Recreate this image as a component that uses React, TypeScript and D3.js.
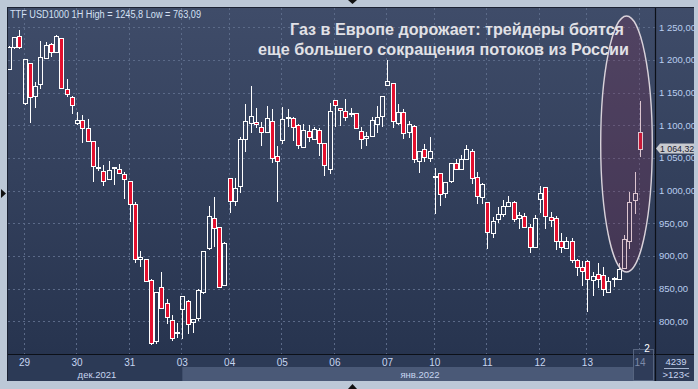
import React from 'react';
import * as d3 from 'd3';

// ---- data ----
const dayLabels = ['29', '30', '31', '03', '04', '05', '06', '07', '10', '11', '12', '13', '14'];
const dayStartIdx = [3, 13, 23, 33, 42, 52, 62, 72, 81, 91, 101, 110, 120];
const monthLabels = ['дек.2021', 'янв.2022'];
const priceTicks = [800, 850, 900, 950, 1000, 1050, 1100, 1150, 1200, 1250];

const opens = [
  1186, 1219.4, 1236.7, 1133.6, 1194.9, 1145.4, 1162.7, 1202.5, 1224.5, 1212.7,
  1233.1, 1155.1, 1143.9, 1103, 1108.1, 1095.4, 1075.5, 1034.7, 1030.6, 1017.3,
  1034.7, 1032.6, 1025, 1014.3, 979.6, 895.9, 894.9, 862.7, 770.4, 852,
  827.5, 802, 782.6, 818.3, 831.6, 799.5, 804.6, 845.4, 911.7, 958.1,
  943.9, 855.6, 1018.8, 984.2, 1007.6, 1078.5, 1103, 1105.6, 1097.9, 1090.3,
  1106.6, 1053, 1077.5, 1111.7, 1110.7, 1100, 1066.3, 1091.3, 1079, 1092.8,
  1072.4, 1032.6, 1138.8, 1126, 1121.9, 1117.3, 1118.4, 1091.8, 1080.1, 1084.2,
  1101.5, 1114.8, 1161.2, 1164.3, 1103, 1119.9, 1089.3, 1098.9, 1045.9, 1063.2,
  1049.5, 1021.9, 1026.5, 995.9, 1014.8, 1041.8, 1032.6, 1047.9, 1061.2, 1020.4,
  990.8, 982.1, 935.7, 956.6, 963.8, 977, 982.1, 957.6, 961.7, 944.9,
  914.3, 986.7, 1005.1, 960.2, 957.6, 922.9, 912.7, 923.4, 893.9, 882.6,
  892.8, 863.2, 871.9, 870.9, 844.4, 864.3, 864.3, 881.1, 923.4, 985.7,
  1089.3,
];
const highs = [
  1222, 1235.7, 1245.8, 1201, 1195, 1166.8, 1229, 1228, 1226.5, 1238.2,
  1234, 1170.4, 1144.9, 1119.9, 1115.8, 1109.2, 1076, 1067.3, 1038.8, 1045.4,
  1036.7, 1040.8, 1028, 1014.5, 983.1, 907.6, 895.5, 864.3, 845, 875,
  833.6, 809.7, 797.9, 839, 832, 803.5, 849, 908, 976.5, 990.8,
  944.5, 920.9, 1019.2, 1018.8, 1081.6, 1132.6, 1160.2, 1126, 1105.6, 1129.6,
  1125, 1068.3, 1127.5, 1125, 1112.2, 1101.5, 1101.5, 1100.5, 1098, 1095.4,
  1072.8, 1133.6, 1139.2, 1126.4, 1140.3, 1126, 1118.8, 1096.9, 1089.3, 1113.2,
  1129.6, 1144.8, 1200, 1164.7, 1132.1, 1124.5, 1106.6, 1100.5, 1061, 1071.4,
  1081.6, 1034.2, 1027, 1013, 1042.8, 1047.9, 1054.6, 1069.9, 1063.2, 1028,
  1011.2, 982.5, 960.2, 975.5, 985.7, 991.8, 984.2, 966.8, 965.3, 948.4,
  962.7, 1007.6, 1006.1, 967.8, 961.2, 934.7, 929.6, 927, 895.4, 892.8,
  893.2, 876, 888.8, 883.7, 867.3, 867.3, 889.8, 932.1, 998.5, 1028,
  1137.2,
];
const lows = [
  1184, 1216.8, 1216.8, 1131.6, 1104, 1126, 1155.6, 1201.5, 1205, 1211.7,
  1156, 1142.8, 1117.3, 1100.5, 1072.4, 1075, 1013.8, 1030.6, 1007.6, 1017,
  1008.6, 1026, 987.2, 952.5, 889.8, 883.7, 860.7, 763.09, 765, 819.5,
  795.4, 770.4, 774, 772.4, 780.1, 782.6, 800.5, 841.8, 909.2, 914.3,
  851.5, 854.6, 965.3, 977, 995.9, 1059.7, 1088.8, 1096.4, 1068.8, 1087.7,
  1042.8, 983.1, 1070.9, 1097.9, 1076.5, 1063.2, 1066, 1074, 1077.5, 1053.5,
  1023, 1025, 1096.9, 1099.5, 1107.1, 1113.2, 1094.5, 1064.2, 1068.3, 1081.6,
  1087.7, 1096.9, 1160.2, 1095.4, 1100.5, 1078.5, 1080.1, 1041.8, 1027.5, 1044.4,
  1044.4, 963.8, 977, 989.3, 1011.2, 1032, 1032, 1046.9, 1009.7, 979.1,
  979.1, 910.7, 928, 951, 960.2, 974.5, 952.5, 941.3, 942.3, 904.1,
  912.7, 966.3, 940.8, 944.9, 909.2, 904.1, 912, 888.8, 869.9, 854.6,
  813.8, 839.3, 850.5, 838.8, 844, 853, 864, 880, 910.2, 963.8,
  1052,
];
const closes = [
  1220, 1234.7, 1219.4, 1201, 1142.8, 1160.2, 1204, 1222.9, 1211.7, 1236.7,
  1156.6, 1147.4, 1130.6, 1108.1, 1095.4, 1076.5, 1037.7, 1036.2, 1014.8, 1031.1,
  1035.7, 1026.5, 1018.3, 979.1, 894.9, 897.9, 862.2, 766.3, 844.9, 819.9,
  807.1, 774, 783.7, 838.8, 795.9, 803, 848, 907.6, 961.2, 942.3,
  852, 919.4, 984.7, 1003.6, 1079, 1106.6, 1114.8, 1101.5, 1089.3, 1110.7,
  1049.5, 1045.4, 1109.2, 1112.7, 1096.9, 1069.4, 1092.8, 1081.6, 1093.9, 1072.4,
  1038.8, 1121.9, 1131.1, 1123.4, 1113.2, 1119.4, 1095.4, 1079, 1084.2, 1108.1,
  1112.2, 1144.4, 1167.3, 1106.6, 1119.9, 1087.7, 1101.5, 1047.9, 1060.7, 1051,
  1060.7, 1022.9, 994.4, 1012.7, 1041.8, 1032.6, 1047.9, 1063.2, 1018.8, 992.3,
  1009.7, 936.2, 953.6, 963.8, 977, 982.1, 956.1, 962.7, 943.9, 913.2,
  957.6, 995.9, 961.2, 955.1, 922.9, 914.3, 922.9, 893.9, 882.6, 877.5,
  864.3, 869.4, 864.3, 849.5, 862.2, 866.3, 879.6, 926, 983.1, 995.9,
  1064.32,
];

const headerText = 'TTF USD1000 1H High = 1245,8 Low = 763,09';
const titleLines = ['Газ в Европе дорожает: трейдеры боятся', 'еще большего сокращения потоков из России'];
const lastPriceLabel = '1 064,32';
const cornerTop = '4239';
const cornerBottom = '>123<';
const barCountMark = '2';

// ---- layout ----
const W = 698;
const H = 389;
const PL = 8, PR = 655, PT = 8, PB = 354;
const AXB = 381;

const fmtLocale = d3.formatLocale({ decimal: ',', thousands: ' ', grouping: [3], currency: ['', ''] });
const fmtPrice = fmtLocale.format(',.2f');

export default function App() {
  const n = opens.length;
  const x = d3.scaleLinear().domain([0, n - 1]).range([8.74, 640]);
  const y = d3.scaleLinear().domain([800, 1250]).range([321.3, 27.3]);

  const gridColor = '#5b6a88';
  const candles = opens.map((o, i) => {
    const c = closes[i];
    const hi = highs[i];
    const lo = lows[i];
    const cx = Math.round(x(i));
    const up = c >= o;
    const yTop = Math.round(y(Math.max(o, c)));
    let yBot = Math.round(y(Math.min(o, c)));
    if (yBot - yTop < 1) yBot = yTop + 1;
    const yH = Math.round(y(hi));
    const yL = Math.round(y(lo));
    return (
      <g key={i}>
        {yH < yTop && <line x1={cx + 0.5} x2={cx + 0.5} y1={yH} y2={yTop} stroke="#ffffff" strokeWidth={1} />}
        {yL > yBot && <line x1={cx + 0.5} x2={cx + 0.5} y1={yBot} y2={yL} stroke="#ffffff" strokeWidth={1} />}
        <rect
          x={cx - 1.5}
          y={yTop + 0.5}
          width={4}
          height={yBot - yTop}
          fill={up ? 'none' : '#e3102e'}
          stroke="#ffffff"
          strokeWidth={1}
        />
      </g>
    );
  });

  const monthSplit = x(dayStartIdx[3]);
  const yLast = y(closes[n - 1]);

  return (
    <svg
      width={W}
      height={H}
      viewBox={`0 0 ${W} ${H}`}
      style={{ position: 'fixed', left: 0, top: 0, display: 'block' }}
      fontFamily="'Liberation Sans', Arial, sans-serif"
    >
      <defs>
        <linearGradient id="bgGrad" x1="0" y1="0" x2="0" y2="1">
          <stop offset="0" stopColor="#3f4c69" />
          <stop offset="1" stopColor="#27344f" />
        </linearGradient>
        <clipPath id="plotClip">
          <rect x={PL} y={PT} width={PR - PL} height={PB - PT} />
        </clipPath>
      </defs>

      {/* outer frame */}
      <rect x={0} y={0} width={W} height={H} fill="#bcc8d7" />
      <rect x={PL - 1} y={PT - 1} width={694 - PL + 1} height={AXB - PT + 1} fill="#1b2233" />
      {/* plot + price axis background */}
      <rect x={PL} y={PT} width={694 - PL} height={PB - PT} fill="url(#bgGrad)" />
      {/* time axis strip */}
      <rect x={PL} y={PB + 1} width={PR - PL} height={AXB - PB - 1} fill="#2c3a56" />
      <rect x={monthSplit} y={367} width={633 - monthSplit} height={AXB - 367} fill="#4a5977" />
      <rect x={PR + 1} y={PB + 1} width={694 - PR - 1} height={AXB - PB - 1} fill="#2c3a56" />

      {/* grid */}
      <g clipPath="url(#plotClip)">
        {priceTicks.map((t) => (
          <line key={t} x1={PL} x2={PR} y1={Math.round(y(t)) + 0.5} y2={Math.round(y(t)) + 0.5} stroke={gridColor} strokeDasharray="2,3" />
        ))}
        {dayStartIdx.map((d) => (
          <line key={d} x1={Math.round(x(d)) - 0.5} x2={Math.round(x(d)) - 0.5} y1={PT} y2={PB} stroke={gridColor} strokeDasharray="2,3" />
        ))}
        {candles}
        <ellipse cx={626.5} cy={144} rx={25.8} ry={128} fill="rgb(131,48,81)" fillOpacity={0.28} stroke="#d9d2da" strokeWidth={1.4} />
      </g>

      {/* separators */}
      <line x1={PR + 0.5} x2={PR + 0.5} y1={PT} y2={AXB} stroke="#0c1018" strokeWidth={1.2} />
      <line x1={PL} x2={694} y1={PB + 0.5} y2={PB + 0.5} stroke="#0c1018" strokeWidth={1.2} />

      {/* header */}
      <text x={10} y={18} fontSize={10} fill="#d4e0f4" textLength={191} lengthAdjust="spacingAndGlyphs">{headerText}</text>

      {/* title */}
      <text x={290} y={35} fontSize={16.5} fontWeight="bold" fill="#e1e1e6" textLength={334} lengthAdjust="spacingAndGlyphs">{titleLines[0]}</text>
      <text x={258} y={55} fontSize={16.5} fontWeight="bold" fill="#e1e1e6" textLength={371} lengthAdjust="spacingAndGlyphs">{titleLines[1]}</text>

      {/* price axis labels */}
      {priceTicks.map((t) => (
        <text key={t} x={659} y={y(t) + 3.3} fontSize={9.5} fill="#b9cdef">{fmtPrice(t)}</text>
      ))}
      {/* last price tag */}
      <path
        d={`M${PR + 1},${yLast} L${PR + 5},${yLast - 5} L694,${yLast - 5} L694,${yLast + 5} L${PR + 5},${yLast + 5} Z`}
        fill="#c9cbd0"
      />
      <text x={660} y={yLast + 3} fontSize={8.8} fill="#1c2230">{lastPriceLabel}</text>

      {/* time axis labels */}
      {dayStartIdx.slice(0, -1).map((d, i) => (
        <text key={d} x={x(d)} y={366} fontSize={10} textAnchor="middle" fill="#c7d5f0">
          {dayLabels[i]}
        </text>
      ))}
      <rect x={633.5} y={349.5} width={20} height={31} fill="#34415e" fillOpacity={0.45} stroke="#56647f" strokeWidth={1} />
      <text x={x(dayStartIdx[dayStartIdx.length - 1])} y={366} fontSize={10} textAnchor="middle" fill="#7d8aa8">{dayLabels[dayLabels.length - 1]}</text>
      <text x={97} y={378} fontSize={9.5} textAnchor="middle" fill="#c7d5f0">{monthLabels[0]}</text>
      <text x={420} y={378} fontSize={9.5} textAnchor="middle" fill="#c7d5f0">{monthLabels[1]}</text>
      <text x={647} y={352} fontSize={10} textAnchor="middle" fill="#ffffff">{barCountMark}</text>

      {/* corner box */}
      <text x={676} y={365} fontSize={9.5} textAnchor="middle" fill="#c7d5f0">{cornerTop}</text>
      <line x1={664} x2={689} y1={368.5} y2={368.5} stroke="#c7d5f0" strokeWidth={0.8} />
      <text x={676} y={378} fontSize={9.5} textAnchor="middle" fill="#c7d5f0">{cornerBottom}</text>

      {/* frame markers */}
      <path d="M348,0 L357,0 L352.5,4 Z" fill="#111" />
      <path d="M348,389 L357,389 L352.5,384 Z" fill="#111" />
      <path d="M1,189 L1,198 L6,193.5 Z" fill="#111" />
    </svg>
  );
}
